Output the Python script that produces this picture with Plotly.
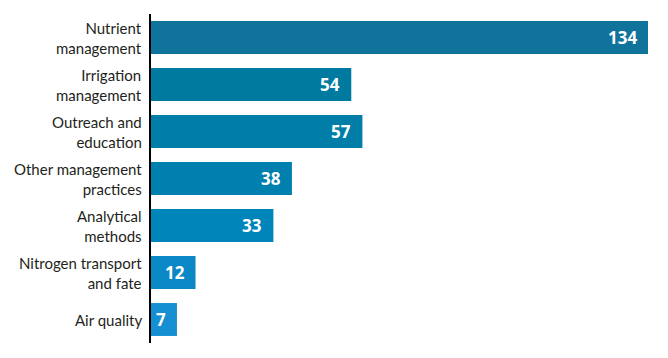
import plotly.graph_objects as go

categories = ["Nutrient<br>management", "Irrigation<br>management", "Outreach and<br>education",
              "Other management<br>practices", "Analytical<br>methods", "Nitrogen transport<br>and fate",
              "Air quality"]
values = [134, 54, 57, 38, 33, 12, 7]
colors = ["#10739C", "#007A9E", "#007EA8", "#0080AE", "#0085BB", "#0A88C6", "#168FD2"]

fig = go.Figure()
fig.add_trace(go.Bar(
    y=categories, x=values, orientation="h",
    marker=dict(color=colors, line=dict(width=0)),
    width=0.7, hoverinfo="skip",
))
for c, v in zip(categories, values):
    fig.add_annotation(x=v, y=c, text=f"<b>{v}</b>", showarrow=False,
                       xanchor="right", xshift=-9,
                       font=dict(family="Open Sans", size=17, color="white"))
    fig.add_annotation(x=0, xref="paper", y=c, text=c, showarrow=False,
                       xanchor="right", align="right", xshift=-7,
                       font=dict(family="Lato", size=15, color="#231F20"))

fig.update_layout(
    width=668, height=358,
    margin=dict(l=143, r=28, t=6, b=23, autoexpand=False),
    paper_bgcolor="white", plot_bgcolor="white",
    showlegend=False,
    font=dict(family="Lato", size=15, color="#231F20"),
)
fig.update_xaxes(range=[0, 134], visible=False, showgrid=False, zeroline=False, automargin=False)
fig.update_yaxes(autorange="reversed", showgrid=False, zeroline=False,
                 showline=True, linecolor="black", linewidth=1.5,
                 ticks="", showticklabels=False, automargin=False)
fig.write_html("out.html")
